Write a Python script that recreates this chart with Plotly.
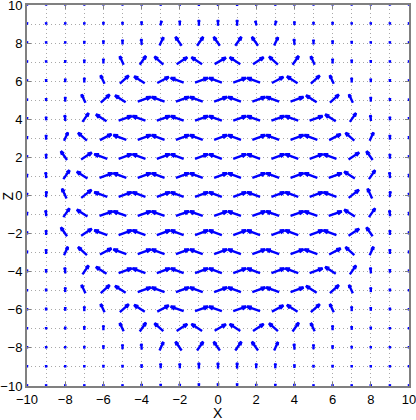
import math
import plotly.graph_objects as go

# grid of the field: columns x = -10..10, rows z = 10..-10 (top to bottom)
X_VALS = list(range(-10, 11))
Z_VALS = list(range(10, -11, -1))

# tilt of each arrow from vertical in degrees (+ leans right, - leans left)
TILT = [
    [0, 0, 0, 0, 0, 0, 0, 0, 0, 0, 0, 0, 0, 0, 0, 0, 0, 0, 0, 0, 0],
    [0, 0, 0, 0, 0, 0, 0, 15, 0, 0, 0, 0, -15, 15, 0, 0, 0, 0, 0, 0, 0],
    [0, 0, 0, 0, 0, 0, -5, 25, -35, 35, -35, 35, -35, 25, -5, 0, 0, 0, 0, 0, 0],
    [0, 0, 0, 0, 0, -25, 35, -48, 57, -57, 60, -57, 57, -48, 35, -25, 0, 0, 0, 0, 0],
    [0, 0, 0, 0, -25, 48, -57, 62, -70, 70, -70, 70, -70, 62, -57, 48, -25, 0, 0, 0, 0],
    [0, 0, 0, -25, 48, -57, 70, -70, 70, -70, 70, -70, 70, -70, 70, -57, 48, -25, 0, 0, 0],
    [0, 0, -5, 35, -57, 70, -70, 70, -70, 70, -70, 70, -70, 70, -70, 70, -57, 35, -5, 0, 0],
    [0, 0, 25, -48, 62, -70, 70, -70, 70, -70, 70, -70, 70, -70, 70, -70, 62, -48, 25, 0, 0],
    [0, 0, -35, 57, -70, 70, -70, 70, -70, 70, -70, 70, -70, 70, -70, 70, -70, 57, -35, 0, 0],
    [0, -5, 35, -57, 70, -70, 70, -70, 70, -70, 70, -70, 70, -70, 70, -70, 70, -57, 35, -5, 0],
    [0, 5, -25, 52, -70, 70, -70, 70, -70, 70, -70, 70, -70, 70, -70, 70, -70, 52, -25, 5, 0],
    [0, -5, 35, -57, 70, -70, 70, -70, 70, -70, 70, -70, 70, -70, 70, -70, 70, -57, 35, -5, 0],
    [0, 0, -35, 57, -70, 70, -70, 70, -70, 70, -70, 70, -70, 70, -70, 70, -70, 57, -35, 0, 0],
    [0, 0, 25, -48, 62, -70, 70, -70, 70, -70, 70, -70, 70, -70, 70, -70, 62, -48, 25, 0, 0],
    [0, 0, -5, 35, -57, 70, -70, 70, -70, 70, -70, 70, -70, 70, -70, 70, -57, 35, -5, 0, 0],
    [0, 0, 0, -25, 48, -57, 70, -70, 70, -70, 70, -70, 70, -70, 70, -57, 48, -25, 0, 0, 0],
    [0, 0, 0, 0, -25, 48, -57, 62, -70, 70, -70, 70, -70, 62, -57, 48, -25, 0, 0, 0, 0],
    [0, 0, 0, 0, 0, -25, 35, -48, 57, -57, 60, -57, 57, -48, 35, -25, 0, 0, 0, 0, 0],
    [0, 0, 0, 0, 0, 0, -5, 25, -35, 35, -35, 35, -35, 25, -5, 0, 0, 0, 0, 0, 0],
    [0, 0, 0, 0, 0, 0, 0, 0, 0, 0, 0, 0, 0, 0, 0, 0, 0, 0, 0, 0, 0],
    [0, 0, 0, 0, 0, 0, 0, 0, 0, 0, 0, 0, 0, 0, 0, 0, 0, 0, 0, 0, 0],
]

# arrow length in grid units
LENGTH = [
    [.11, .11, .11, .11, .11, .11, .14, .14, .14, .18, .18, .18, .14, .14, .14, .11, .11, .11, .11, .11, .11],
    [.11, .11, .11, .11, .14, .14, .18, .24, .24, .30, .30, .30, .24, .24, .18, .14, .14, .11, .11, .11, .11],
    [.11, .11, .11, .14, .18, .24, .30, .48, .56, .56, .56, .56, .56, .48, .30, .24, .18, .14, .11, .11, .11],
    [.11, .11, .14, .18, .24, .48, .56, .62, .66, .66, .68, .66, .66, .62, .56, .48, .24, .18, .14, .11, .11],
    [.11, .14, .18, .24, .48, .62, .66, .68, .72, .72, .72, .72, .72, .68, .66, .62, .48, .24, .18, .14, .11],
    [.11, .14, .24, .48, .62, .66, .72, .72, .72, .72, .72, .72, .72, .72, .72, .66, .62, .48, .24, .14, .11],
    [.14, .18, .30, .56, .66, .72, .72, .72, .72, .72, .72, .72, .72, .72, .72, .72, .66, .56, .30, .18, .14],
    [.14, .24, .48, .62, .68, .72, .72, .72, .72, .72, .72, .72, .72, .72, .72, .72, .68, .62, .48, .24, .14],
    [.14, .24, .56, .66, .72, .72, .72, .72, .72, .72, .72, .72, .72, .72, .72, .72, .72, .66, .56, .24, .14],
    [.18, .30, .56, .66, .72, .72, .72, .72, .72, .72, .72, .72, .72, .72, .72, .72, .72, .66, .56, .30, .18],
    [.18, .30, .56, .68, .72, .72, .72, .72, .72, .72, .72, .72, .72, .72, .72, .72, .72, .68, .56, .30, .18],
    [.18, .30, .56, .66, .72, .72, .72, .72, .72, .72, .72, .72, .72, .72, .72, .72, .72, .66, .56, .30, .18],
    [.14, .24, .56, .66, .72, .72, .72, .72, .72, .72, .72, .72, .72, .72, .72, .72, .72, .66, .56, .24, .14],
    [.14, .24, .48, .62, .68, .72, .72, .72, .72, .72, .72, .72, .72, .72, .72, .72, .68, .62, .48, .24, .14],
    [.14, .18, .30, .56, .66, .72, .72, .72, .72, .72, .72, .72, .72, .72, .72, .72, .66, .56, .30, .18, .14],
    [.11, .14, .24, .48, .62, .66, .72, .72, .72, .72, .72, .72, .72, .72, .72, .66, .62, .48, .24, .14, .11],
    [.11, .14, .18, .24, .48, .62, .66, .68, .72, .72, .72, .72, .72, .68, .66, .62, .48, .24, .18, .14, .11],
    [.11, .11, .14, .18, .24, .48, .56, .62, .66, .66, .68, .66, .66, .62, .56, .48, .24, .18, .14, .11, .11],
    [.11, .11, .11, .14, .18, .24, .30, .48, .56, .56, .56, .56, .56, .48, .30, .24, .18, .14, .11, .11, .11],
    [.11, .11, .11, .11, .14, .14, .18, .24, .24, .30, .30, .30, .24, .24, .18, .14, .14, .11, .11, .11, .11],
    [.11, .11, .11, .11, .11, .11, .14, .14, .14, .18, .18, .18, .14, .14, .14, .11, .11, .11, .11, .11, .11],
]

BLUE = "#0000ff"
GRID = "#a8a8a8"
AXIS = "#808080"
FONT = "Liberation Sans, Arial, sans-serif"

# quiver-style arrows: shaft plus two head strokes, drawn as one line trace
xs, ys = [], []
alpha, beta = 0.33, 0.33
for i, z in enumerate(Z_VALS):
    for j, x in enumerate(X_VALS):
        L = LENGTH[i][j]
        t = math.radians(TILT[i][j])
        u, w = L * math.sin(t), L * math.cos(t)
        x0, z0 = x - 0.3 * u, z - 0.3 * w
        x1, z1 = x0 + u, z0 + w
        xs += [x0, x1, None]
        ys += [z0, z1, None]
        xs += [x1 - alpha * (u + beta * w), x1, x1 - alpha * (u - beta * w), None]
        ys += [z1 - alpha * (w - beta * u), z1, z1 - alpha * (w + beta * u), None]

fig = go.Figure(go.Scatter(
    x=xs, y=ys, mode="lines",
    line=dict(color=BLUE, width=2.4),
    hoverinfo="skip", showlegend=False,
))

axis_style = dict(
    range=[-10, 10],
    tickmode="array",
    tickvals=list(range(-10, 11, 2)),
    ticks="inside", ticklen=4, tickcolor=AXIS, tickwidth=1,
    showline=True, linecolor=AXIS, linewidth=2, mirror="ticks",
    showgrid=True, gridcolor=GRID, gridwidth=1, griddash="1px,3px",
    minor=dict(dtick=1, tick0=-10, showgrid=True, gridcolor=GRID,
               griddash="1px,3px", gridwidth=1),
    zeroline=False,
    tickfont=dict(family=FONT, size=13, color="black"),
    ticklabeloverflow="allow",
    automargin=False,
)

fig.update_layout(
    width=416, height=420,
    margin=dict(l=27, r=7, t=5, b=34),
    paper_bgcolor="white", plot_bgcolor="white",
    xaxis=axis_style,
    yaxis=axis_style,
    annotations=[
        dict(text="X", x=0.5, y=-0.071, xref="paper", yref="paper",
             showarrow=False, yanchor="middle",
             font=dict(family=FONT, size=14, color="black")),
        dict(text="Z", x=-0.05, y=0.5, xref="paper", yref="paper",
             showarrow=False, textangle=-90, xanchor="center",
             font=dict(family=FONT, size=14, color="black")),
    ],
)

fig.write_html("out.html", config={"displayModeBar": False},
               post_script="document.body.style.margin='0px';")
